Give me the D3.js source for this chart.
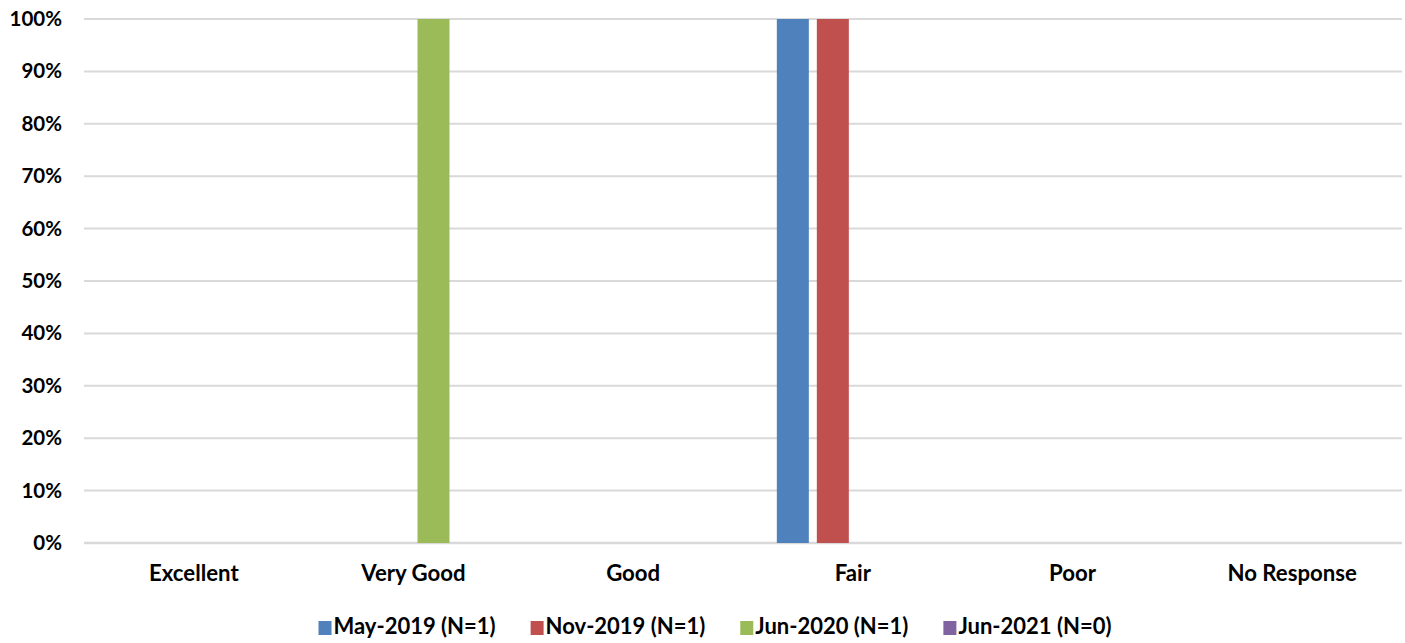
<!DOCTYPE html>
<html>
<head>
<meta charset="utf-8">
<script src="https://cdn.jsdelivr.net/npm/d3@7"></script>
<style>
  html, body { margin: 0; padding: 0; background: #fff; }
  svg { display: block; }
  text { font-family: Lato, "Open Sans", sans-serif; font-weight: bold; fill: #000; }
</style>
</head>
<body>
<svg id="chart" width="1405" height="643"></svg>
<script>
const categories = ["Excellent", "Very Good", "Good", "Fair", "Poor", "No Response"];
const seriesNames = ["May-2019 (N=1)", "Nov-2019 (N=1)", "Jun-2020 (N=1)", "Jun-2021 (N=0)"];
const seriesColors = ["#4f81bd", "#c0504d", "#9bbb59", "#8064a2"];
const may2019 = [0, 0, 0, 1, 0, 0];
const nov2019 = [0, 0, 0, 1, 0, 0];
const jun2020 = [0, 1, 0, 0, 0, 0];
const jun2021 = [0, 0, 0, 0, 0, 0];
const yTicks = [0, 0.1, 0.2, 0.3, 0.4, 0.5, 0.6, 0.7, 0.8, 0.9, 1.0];

const seriesValues = [may2019, nov2019, jun2020, jun2021];

const svg = d3.select("#chart");
const plot = { left: 84, right: 1402, top: 19, bottom: 543 };

const x = d3.scaleBand().domain(categories).range([plot.left, plot.right]).paddingInner(0).paddingOuter(0);
const groupW = 160;
const xInner = d3.scaleBand().domain(d3.range(seriesNames.length))
  .range([(x.bandwidth() - groupW) / 2, (x.bandwidth() + groupW) / 2])
  .paddingInner(0.2).paddingOuter(0.1);
const y = d3.scaleLinear().domain([0, 1]).range([plot.bottom, plot.top]);

// gridlines
svg.append("g").selectAll("line").data(yTicks).join("line")
  .attr("x1", plot.left).attr("x2", plot.right)
  .attr("y1", d => y(d)).attr("y2", d => y(d))
  .attr("stroke", "#d9d9d9").attr("stroke-width", d => d === 0 ? 2.5 : 2);

// y axis labels
const yAxis = d3.axisLeft(y).tickValues(yTicks).tickFormat(d3.format(".0%")).tickSize(0).tickPadding(22);
const yg = svg.append("g").attr("transform", `translate(${plot.left},0)`).call(yAxis);
yg.select(".domain").remove();
yg.selectAll("text").attr("font-size", 20.5).attr("font-family", "Lato, sans-serif").attr("font-weight", "bold").attr("fill", "#000");

// bars
const groups = svg.append("g").selectAll("g").data(categories).join("g")
  .attr("transform", d => `translate(${x(d)},0)`);
groups.selectAll("rect").data((c, ci) => seriesValues.map((vals, si) => ({ si, v: vals[ci] })))
  .join("rect")
  .attr("x", d => xInner(d.si))
  .attr("width", xInner.bandwidth())
  .attr("y", d => y(d.v))
  .attr("height", d => y(0) - y(d.v))
  .attr("fill", d => seriesColors[d.si]);

// x axis labels
const xAxis = d3.axisBottom(x).tickSize(0).tickPadding(22);
const xg = svg.append("g").attr("transform", `translate(0,${plot.bottom})`).call(xAxis);
xg.select(".domain").remove();
xg.selectAll("text").attr("font-size", 22.2).attr("font-family", "Lato, sans-serif").attr("font-weight", "bold").attr("fill", "#000");

// legend
const legend = svg.append("g");
const items = legend.selectAll("g").data(seriesNames).join("g");
items.append("rect").attr("width", 13).attr("height", 14).attr("y", -13)
  .attr("fill", (d, i) => seriesColors[i]);
items.append("text").attr("x", 15).attr("y", 0).attr("font-size", 22).text(d => d);
const gap = 35;
let widths = [];
items.each(function () { widths.push(this.getBBox().width); });
const total = d3.sum(widths) + gap * (widths.length - 1);
let cx = 715 - total / 2;
items.attr("transform", (d, i) => {
  const t = `translate(${cx},634)`;
  cx += widths[i] + gap;
  return t;
});
</script>
</body>
</html>
